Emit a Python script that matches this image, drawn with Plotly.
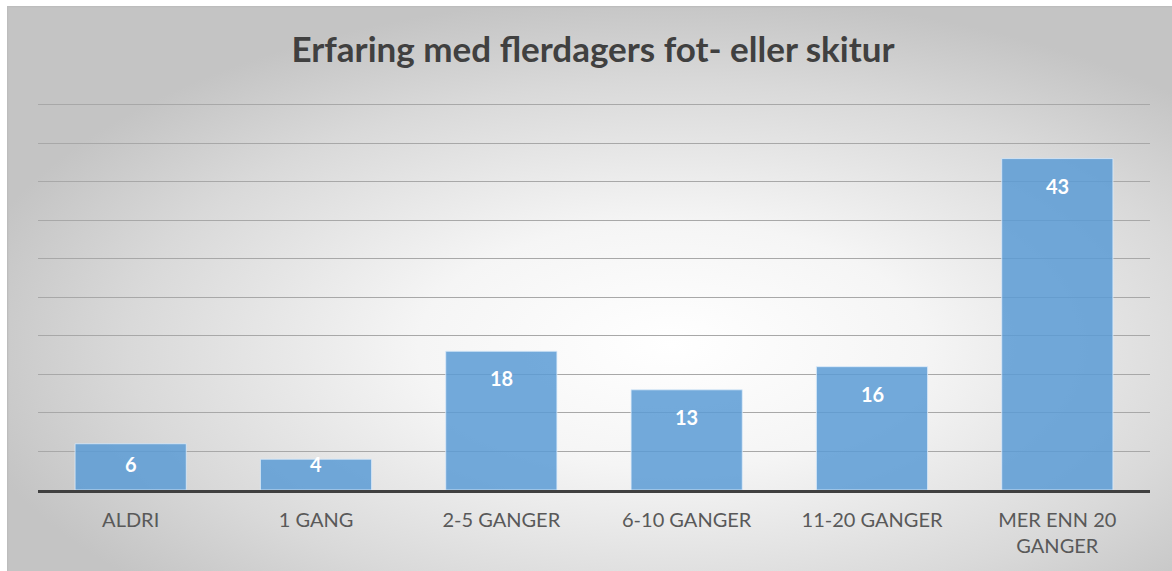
import base64
import plotly.graph_objects as go

categories = ["ALDRI", "1 GANG", "2-5 GANGER", "6-10 GANGER", "11-20 GANGER", "MER ENN 20<br>GANGER"]
values = [6, 4, 18, 13, 16, 43]
title_text = "Erfaring med flerdagers fot- eller skitur"

W, H = 1172, 571
YTOP_GRID = 50
YRANGE = 50.6
base_px, top_grid_px = 490, 105
ppu = (base_px - top_grid_px) / YTOP_GRID
ML, MR = 38, 22
MB = H - base_px
MT = round(base_px - ppu * YRANGE)
pw = W - ML - MR
ph = H - MT - MB

svg = f'''<svg xmlns="http://www.w3.org/2000/svg" width="1165" height="565" viewBox="0 0 1165 565" preserveAspectRatio="none">
<defs><radialGradient id="g" cx="0.57" cy="0.6" r="0.62" fx="0.57" fy="0.6" gradientUnits="objectBoundingBox">
<stop offset="0" stop-color="#ffffff"/>
<stop offset="0.35" stop-color="#f5f5f5"/>
<stop offset="0.75" stop-color="#d9d9d9"/>
<stop offset="1" stop-color="#c4c4c4"/>
</radialGradient></defs>
<rect x="0" y="0" width="1165" height="565" fill="url(#g)"/>
<rect x="0.5" y="0.5" width="1180" height="580" fill="none" stroke="#bdbdbd" stroke-width="1.5"/>
</svg>'''
src = "data:image/svg+xml;base64," + base64.b64encode(svg.encode()).decode()

x0 = (7 - ML) / pw
y_top = (H - MB - 6) / ph
sx = (W - 7) / pw
sy = (H - 6) / ph

fig = go.Figure()
fig.add_trace(go.Bar(
    x=categories, y=values,
    marker=dict(color="rgba(91,155,213,0.85)", line=dict(color="rgba(220,235,250,0.8)", width=1)),
    hoverinfo="skip",
))

annotations = []
for c, v in zip(categories, values):
    if v * ppu >= 53:
        ay, shift = v, -27
    else:
        ay, shift = 0, 26
    annotations.append(dict(x=c, y=ay, yshift=shift, text=f"<b>{v}</b>", showarrow=False,
                            xanchor="center", yanchor="middle",
                            font=dict(family="Lato", size=20, color="white")))

fig.update_layout(
    width=W, height=H,
    margin=dict(l=ML, r=MR, t=MT, b=MB),
    paper_bgcolor="white", plot_bgcolor="rgba(0,0,0,0)",
    bargap=0.4,
    showlegend=False,
    annotations=annotations,
    title=dict(text=f"<b>{title_text}</b>", x=0.506, xanchor="center", y=1 - 50 / H, yanchor="middle",
               font=dict(family="Lato", size=35, color="#404040")),
    images=[dict(source=src, xref="paper", yref="paper", x=x0, y=y_top, sizex=sx, sizey=sy,
                 xanchor="left", yanchor="top", sizing="stretch", layer="below")],
    xaxis=dict(showgrid=False, showline=True, linecolor="#404040", linewidth=3, ticks="",
               tickfont=dict(family="Lato", size=20, color="#595959"), ticklabelstandoff=10),
    yaxis=dict(range=[0, YRANGE], tick0=0, dtick=5, showgrid=True, gridcolor="#a8a8a8", gridwidth=1,
               showticklabels=False, zeroline=False, showline=False, ticks=""),
)
fig.write_html("out.html", config={"displayModeBar": False},
               post_script="document.body.style.margin='0';document.body.style.overflow='hidden';")
